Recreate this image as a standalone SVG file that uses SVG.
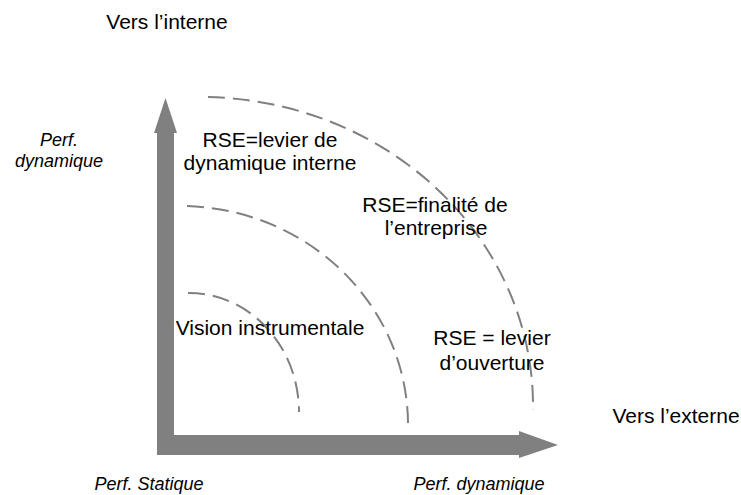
<svg xmlns="http://www.w3.org/2000/svg" width="741" height="495" viewBox="0 0 741 495">
  <style>
    .lbl { font-family: "Liberation Sans", Arial, sans-serif; font-size: 21px; fill: #000; text-anchor: middle; }
    .axis { font-family: "Liberation Sans", Arial, sans-serif; font-size: 18px; font-style: italic; fill: #000; text-anchor: middle; }
    .ring { fill: none; stroke: #808080; stroke-width: 2; stroke-dasharray: 17 8; }
    .arrow { fill: #808080; stroke: none; }
  </style>
  <rect width="741" height="495" fill="#fff"/>

  <!-- axes -->
  <g id="connectors">
    <polygon id="axis-up" class="arrow" points="157,455 157,133 154,133 165.5,98 177,133 174,133 174,455"/>
    <polygon id="axis-right" class="arrow" points="157,435 519,435 519,431 558,445 519,458 519,455 157,455"/>
  </g>

  <!-- dashed zone boundaries -->
  <g id="rings">
    <path id="ring-inner" class="ring" d="M188,293 A110,119 0 0 1 299,412"/>
    <path id="ring-middle" class="ring" d="M187,206.1 A228,219 0 0 1 408,423"/>
    <path id="ring-outer" class="ring" d="M208,97.1 A333,309 0 0 1 533,410"/>
  </g>

  <!-- axis titles -->
  <g id="title-interne"><text class="lbl" x="167" y="29">Vers l’interne</text></g>
  <g id="title-externe"><text class="lbl" x="676" y="423">Vers l’externe</text></g>
  <g id="axis-y-label">
    <text class="axis" x="59" y="146">Perf.</text>
    <text class="axis" x="59" y="167">dynamique</text>
  </g>
  <g id="axis-origin-label"><text class="axis" x="149" y="490">Perf. Statique</text></g>
  <g id="axis-x-label"><text class="axis" x="479" y="490">Perf. dynamique</text></g>

  <!-- zone labels -->
  <g id="zone-instrumentale"><text class="lbl" x="270" y="335">Vision instrumentale</text></g>
  <g id="zone-dynamique-interne">
    <text class="lbl" x="270" y="147">RSE=levier de</text>
    <text class="lbl" x="270" y="170">dynamique interne</text>
  </g>
  <g id="zone-finalite">
    <text class="lbl" x="435" y="212">RSE=finalité de</text>
    <text class="lbl" x="436" y="235">l’entreprise</text>
  </g>
  <g id="zone-ouverture">
    <text class="lbl" x="492" y="345">RSE = levier</text>
    <text class="lbl" x="492" y="370">d’ouverture</text>
  </g>
</svg>
